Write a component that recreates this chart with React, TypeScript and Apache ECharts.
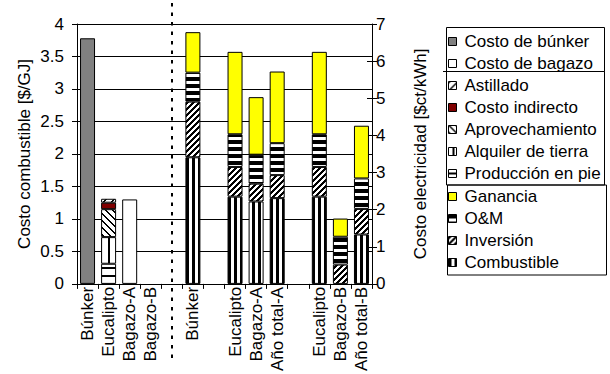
import React, { useEffect, useRef } from "react";
import * as echarts from "echarts";

const FONT = "'Liberation Sans', Arial, Helvetica, sans-serif";

const categories = [
  "Búnker", "Eucalipto", "Bagazo-A", "Bagazo-B", "",
  "Búnker", "", "Eucalipto", "Bagazo-A", "Año total-A", "",
  "Eucalipto", "Bagazo-B", "Año total-B",
];

// Left axis ($/GJ) – fuel cost
const costoBunker = [3.78, null, null, null];
const costoBagazo = [null, null, 1.3, null];
const produccionEnPie = [null, 0.31, null, null];
const alquilerTierra = [null, 0.41, null, null];
const aprovechamiento = [null, 0.43, null, null];
const costoIndirecto = [null, 0.1, null, null];
const astillado = [null, 0.06, null, null];

// Right axis ($ct/kWh) – electricity cost, categories 6..14
const rightIndex = [5, 7, 8, 9, 11, 12, 13];
const combustible = [3.41, 2.35, 2.22, 2.31, 2.35, null, 1.33];
const inversion = [1.5, 0.8, 0.48, 0.62, 0.8, 0.52, 0.69];
const oym = [0.78, 0.88, 0.78, 0.86, 0.88, 0.75, 0.82];
const ganancia = [1.09, 2.22, 1.55, 1.93, 2.22, 0.49, 1.42];

const legend1 = ["Costo de búnker", "Costo de bagazo"];
const legend2 = ["Astillado", "Costo indirecto", "Aprovechamiento", "Alquiler de tierra", "Producción en pie"];
const legend3 = ["Ganancia", "O&M", "Inversión", "Combustible"];

function leftData(arr: (number | null)[]) {
  return categories.map((_, i) => (i < arr.length && arr[i] != null ? arr[i] : "-"));
}
function rightData(arr: (number | null)[]) {
  const out: any[] = categories.map(() => "-");
  rightIndex.forEach((ci, k) => {
    if (arr[k] != null) out[ci] = arr[k];
  });
  return out;
}

function makePattern(w: number, h: number, fn: (x: number, y: number) => boolean) {
  const c = document.createElement("canvas");
  c.width = w;
  c.height = h;
  const ctx = c.getContext("2d")!;
  ctx.fillStyle = "#ffffff";
  ctx.fillRect(0, 0, w, h);
  ctx.fillStyle = "#000000";
  for (let y = 0; y < h; y++) {
    for (let x = 0; x < w; x++) {
      if (fn(x, y)) ctx.fillRect(x, y, 1, 1);
    }
  }
  return { image: c.toDataURL(), repeat: "repeat", imageWidth: w, imageHeight: h } as any;
}

export default function App() {
  const ref = useRef<HTMLDivElement>(null);
  useEffect(() => {
    if (!ref.current) return;
    const chart = echarts.init(ref.current, null as any, { renderer: "svg" });

    const pCombustible = makePattern(6, 6, (x) => x % 6 < 3);
    const pOM = makePattern(7, 7, (_x, y) => y % 7 < 4);
    const pInversion = makePattern(6, 6, (x, y) => (x + y) % 6 < 3);
    const pAstillado = makePattern(8, 8, (x, y) => (x + y) % 8 < 2);
    const pAprovech = makePattern(7, 7, (x, y) => (((x - y) % 7) + 7) % 7 < 2);
    const pAlquiler = makePattern(8, 8, (x) => x % 8 === 4 || x % 8 === 5);
    const pProduccion = makePattern(8, 8, (_x, y) => y % 8 === 3 || y % 8 === 4);

    const border = { borderColor: "#000", borderWidth: 1 };
    const mk = (name: string, data: any[], color: any, yAxisIndex: number) => ({
      name,
      type: "bar",
      stack: "all",
      yAxisIndex,
      barWidth: 15,
      data,
      itemStyle: { color, ...border },
      emphasis: { disabled: true },
    });

    const legendBase = {
      orient: "vertical",
      left: 448,
      padding: 0,
      itemWidth: 8,
      itemHeight: 8,
      itemGap: 5,
      icon: "rect",
      selectedMode: false,
      itemStyle: { borderColor: "#000", borderWidth: 1 },
      textStyle: { fontSize: 17, color: "#000", fontFamily: FONT, padding: [0, 0, 0, 3] },
    };

    const option: any = {
      animation: false,
      textStyle: { fontFamily: FONT, color: "#000" },
      grid: { left: 77, right: 238, top: 24, bottom: 86, containLabel: false },
      xAxis: {
        type: "category",
        data: categories,
        axisLine: { show: true, lineStyle: { color: "#000", width: 1 } },
        axisTick: { show: true, length: 5, interval: 0, lineStyle: { color: "#000" } },
        axisLabel: { interval: 0, rotate: 90, fontSize: 17, color: "#000", margin: 3, fontFamily: FONT },
        splitLine: { show: false },
      },
      yAxis: [
        {
          type: "value",
          min: 0,
          max: 4,
          interval: 0.5,
          position: "left",
          name: "Costo combustible [$/GJ]",
          nameLocation: "middle",
          nameRotate: 90,
          nameGap: 44,
          nameTextStyle: { fontSize: 17, color: "#000", fontFamily: FONT },
          axisLine: { show: true, lineStyle: { color: "#000" } },
          axisTick: { show: true, length: 5, lineStyle: { color: "#000" } },
          axisLabel: { fontSize: 17, color: "#000", margin: 13, fontFamily: FONT },
          splitLine: { show: true, lineStyle: { color: "#000", width: 1 } },
        },
        {
          type: "value",
          min: 0,
          max: 7,
          interval: 1,
          position: "right",
          name: "Costo electricidad [$ct/kWh]",
          nameLocation: "middle",
          nameRotate: 90,
          nameGap: 40,
          nameTextStyle: { fontSize: 17, color: "#000", fontFamily: FONT },
          axisLine: { show: true, lineStyle: { color: "#000" } },
          axisTick: { show: true, length: 5, lineStyle: { color: "#000" } },
          axisLabel: { fontSize: 17, color: "#000", margin: 4, fontFamily: FONT },
          splitLine: { show: false },
        },
        {
          type: "value",
          min: 0,
          max: 7,
          interval: 1,
          position: "right",
          axisLine: { show: false },
          axisTick: { show: true, inside: true, length: 5, lineStyle: { color: "#000" } },
          axisLabel: { show: false },
          splitLine: { show: false },
        },
      ],
      legend: [
        { ...legendBase, top: 33, data: legend1 },
        { ...legendBase, top: 77, data: legend2 },
        { ...legendBase, top: 188, data: legend3 },
      ],
      graphic: [
        { type: "rect", shape: { x: 446.5, y: 27.5, width: 158, height: 44 }, style: { fill: "none", stroke: "#000", lineWidth: 1 } },
        { type: "rect", shape: { x: 446.5, y: 71.5, width: 158, height: 113.5 }, style: { fill: "none", stroke: "#000", lineWidth: 1 } },
        { type: "rect", shape: { x: 447.5, y: 185, width: 159, height: 90 }, style: { fill: "none", stroke: "#000", lineWidth: 1 } },
        { type: "line", shape: { x1: 443, y1: 71.5, x2: 447, y2: 71.5 }, style: { stroke: "#000", lineWidth: 1 } },
        { type: "line", z: 100, shape: { x1: 172, y1: 3, x2: 172, y2: 362 }, style: { stroke: "#000", lineWidth: 2, lineDash: [3.5, 6] } },
      ],
      series: [
        mk("Costo de búnker", leftData(costoBunker), "#808080", 0),
        mk("Costo de bagazo", leftData(costoBagazo), "#ffffff", 0),
        mk("Producción en pie", leftData(produccionEnPie), pProduccion, 0),
        mk("Alquiler de tierra", leftData(alquilerTierra), pAlquiler, 0),
        mk("Aprovechamiento", leftData(aprovechamiento), pAprovech, 0),
        mk("Costo indirecto", leftData(costoIndirecto), "#800000", 0),
        mk("Astillado", leftData(astillado), pAstillado, 0),
        mk("Combustible", rightData(combustible), pCombustible, 1),
        mk("Inversión", rightData(inversion), pInversion, 1),
        mk("O&M", rightData(oym), pOM, 1),
        mk("Ganancia", rightData(ganancia), "#ffff00", 1),
      ],
    };
    chart.setOption(option);
    return () => chart.dispose();
  }, []);
  return (
    <div
      ref={ref}
      style={{ position: "fixed", left: 0, top: 0, width: 610, height: 374, background: "#fff" }}
    />
  );
}
